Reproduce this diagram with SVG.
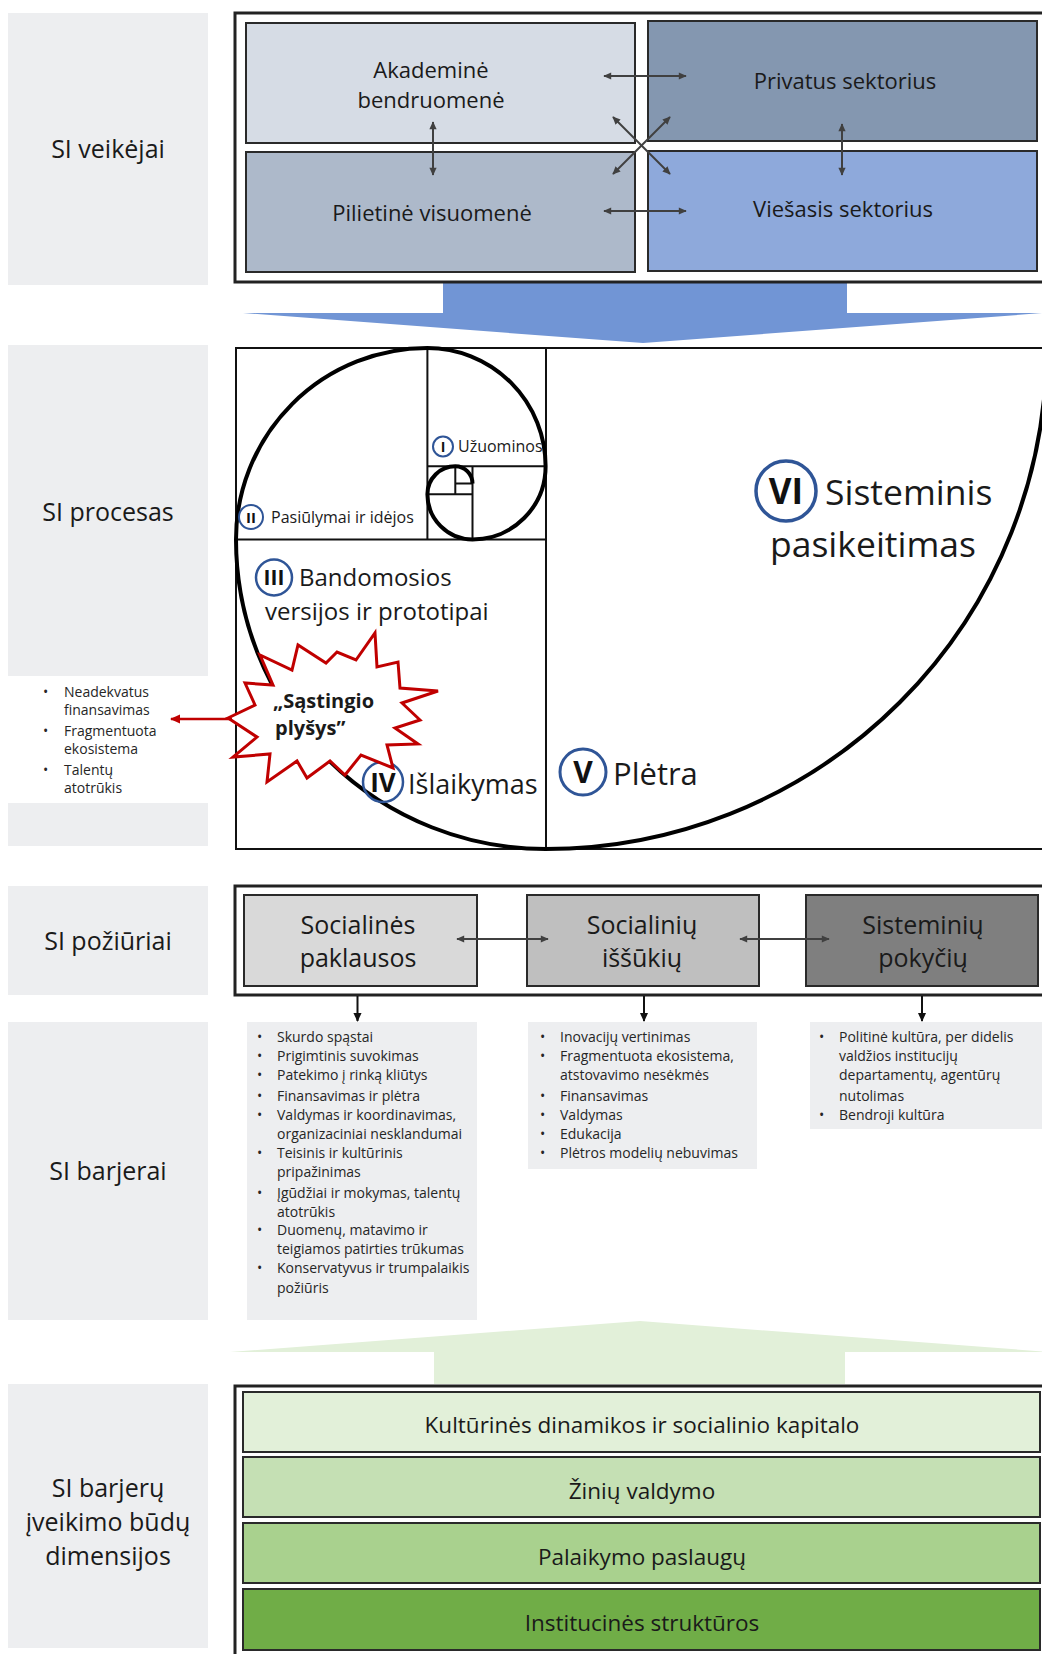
<svg xmlns="http://www.w3.org/2000/svg" width="1042" height="1654" viewBox="0 0 1042 1654">
<defs>
<style>
text{font-family:"Open Sans","Noto Sans","Liberation Sans",sans-serif;fill:#1a1a1a}
.lbl{fill:#EDEEF0}
.lt{font-size:25px;text-anchor:middle}
.bt{font-size:22px;text-anchor:middle}
.dt{font-size:22.5px;text-anchor:middle}
.blt{font-size:14px;fill:#262626}
.bx{stroke:#2a2a2a;stroke-width:2}
.frame{fill:none;stroke:#222;stroke-width:3}
.dar{stroke:#404040;stroke-width:2;fill:none;marker-start:url(#ah);marker-end:url(#ah)}
.num{font-weight:bold;text-anchor:middle;fill:#111}
.circ{fill:none;stroke:#2F5597}
.grid{fill:none;stroke:#111;stroke-width:2}
</style>
<marker id="ah" viewBox="0 0 10 10" refX="9" refY="5" markerWidth="9" markerHeight="8" markerUnits="userSpaceOnUse" orient="auto-start-reverse"><path d="M0,0.5 L10,5 L0,9.5 z" fill="#404040"/></marker>
<marker id="ahk" viewBox="0 0 10 10" refX="9" refY="5" markerWidth="10" markerHeight="9" markerUnits="userSpaceOnUse" orient="auto"><path d="M0,0.5 L10,5 L0,9.5 z" fill="#111"/></marker>
<marker id="ahr" viewBox="0 0 10 10" refX="9" refY="5" markerWidth="11" markerHeight="10" markerUnits="userSpaceOnUse" orient="auto"><path d="M0,0.5 L10,5 L0,9.5 z" fill="#C00000"/></marker>
</defs>
<rect width="1042" height="1654" fill="#fff"/>

<!-- left labels -->
<g id="label-veikejai"><rect class="lbl" x="8" y="13" width="200" height="272"/><text class="lt" x="108" y="158">SI veikėjai</text></g>
<g id="label-procesas"><rect class="lbl" x="8" y="345" width="200" height="331"/><rect class="lbl" x="8" y="803" width="200" height="43"/><text class="lt" x="108" y="521">SI procesas</text></g>
<g id="label-poziuriai"><rect class="lbl" x="8" y="886" width="200" height="109"/><text class="lt" x="108" y="950">SI požiūriai</text></g>
<g id="label-barjerai"><rect class="lbl" x="8" y="1022" width="200" height="298"/><text class="lt" x="108" y="1180">SI barjerai</text></g>
<g id="label-dimensijos"><rect class="lbl" x="8" y="1384" width="200" height="264"/><text class="lt" x="108" y="1497">SI barjerų</text><text class="lt" x="108" y="1531">įveikimo būdų</text><text class="lt" x="108" y="1565">dimensijos</text></g>

<!-- big arrows -->
<g id="arrow-blue"><polygon points="443,282 847,282 847,313 1043,313 643,343 243,313 443,313" fill="#7195D5"/></g>
<g id="arrow-green"><polygon points="434,1384 434,1352 230,1352 640,1321 1050,1352 845,1352 845,1384" fill="#E2F0D9"/></g>

<!-- actors -->
<g id="actors-frame"><rect class="frame" x="235" y="13" width="820" height="269"/></g>
<g id="node-akademine"><rect class="bx" x="246" y="23" width="389" height="120" fill="#D6DCE5"/><text class="bt" x="431" y="78">Akademinė</text><text class="bt" x="431" y="108">bendruomenė</text></g>
<g id="node-privatus"><rect class="bx" x="648" y="21" width="389" height="120" fill="#8497B0"/><text class="bt" x="845" y="89">Privatus sektorius</text></g>
<g id="node-pilietine"><rect class="bx" x="246" y="152" width="389" height="120" fill="#ADB9CA"/><text class="bt" x="432" y="221">Pilietinė visuomenė</text></g>
<g id="node-viesasis"><rect class="bx" x="648" y="151" width="389" height="120" fill="#8EA9DB"/><text class="bt" x="843" y="217">Viešasis sektorius</text></g>

<!-- process -->
<g id="process">
<path class="grid" d="M1045,348 H236 V849 H1045 M546,348 V849 M236,539.4 H546 M427.4,348 V539.4 M427.4,466.3 H546 M472.5,466.3 V539.4 M427.4,494.2 H472.5 M455.3,466.3 V494.2 M455.3,483.6 H472.5"/>
<path d="M1046.6,348 A501,501 0 0 1 545.6,849 A309.6,309.6 0 0 1 236,539.4 A191.4,191.4 0 0 1 427.4,348 A118.3,118.3 0 0 1 545.6,466.3 A73.1,73.1 0 0 1 472.5,539.4 A45.2,45.2 0 0 1 427.4,494.2 A27.9,27.9 0 0 1 455.3,466.3 A17.3,17.3 0 0 1 472.5,483.6" fill="none" stroke="#000" stroke-width="4"/>
</g>
<g id="stage-1"><circle class="circ" cx="443" cy="446.5" r="10" stroke-width="2"/><text class="num" x="443" y="452" font-size="14">I</text><text x="458" y="452" font-size="16">Užuominos</text></g>
<g id="stage-2"><circle class="circ" cx="251" cy="517" r="12" stroke-width="2"/><text class="num" x="251" y="523" font-size="15">II</text><text x="271" y="523" font-size="16">Pasiūlymai ir idėjos</text></g>
<g id="stage-3"><circle class="circ" cx="274" cy="577.5" r="18" stroke-width="2.5"/><text class="num" x="274" y="585" font-size="21">III</text><text x="299" y="586" font-size="24">Bandomosios</text><text x="265" y="620" font-size="24">versijos ir prototipai</text></g>
<g id="stage-4"><circle class="circ" cx="383" cy="782" r="20" stroke-width="2.5"/><text class="num" x="383" y="792" font-size="26">IV</text><text x="408" y="794" font-size="27">Išlaikymas</text></g>
<g id="stage-5"><circle class="circ" cx="583" cy="772" r="23" stroke-width="3"/><text class="num" x="583" y="783" font-size="30">V</text><text x="613" y="785" font-size="31">Plėtra</text></g>
<g id="stage-6"><circle class="circ" cx="786" cy="491" r="30" stroke-width="3.5"/><text class="num" x="786" y="504" font-size="35">VI</text><text x="825" y="505" font-size="35.5">Sisteminis</text><text x="770" y="557" font-size="35.5">pasikeitimas</text></g>

<g id="gap-star"><polygon points="228,718 255,705 245,683 273,685 260,655 292,670 298,645 326,663 337,652 356,660 375,633 377,667 398,662 400,688 438,691 402,703 420,720 395,728 418,744 387,745 393,768 361,755 345,775 330,761 307,778 297,761 267,782 270,754 233,757 257,737" fill="#fff" stroke="#C00000" stroke-width="3" stroke-linejoin="miter"/><text x="273" y="708" font-size="20" font-weight="bold">„Sąstingio</text><text x="275" y="735" font-size="20" font-weight="bold">plyšys”</text></g>

<g id="gap-list">
<text class="blt" x="43" y="697">•</text><text class="blt" x="64" y="697">Neadekvatus</text><text class="blt" x="64" y="715">finansavimas</text>
<text class="blt" x="43" y="736">•</text><text class="blt" x="64" y="736">Fragmentuota</text><text class="blt" x="64" y="754">ekosistema</text>
<text class="blt" x="43" y="775">•</text><text class="blt" x="64" y="775">Talentų</text><text class="blt" x="64" y="793">atotrūkis</text>
</g>

<!-- approaches -->
<g id="approaches-frame"><rect class="frame" x="235" y="886" width="820" height="109"/></g>
<g id="node-paklausos"><rect class="bx" x="244" y="895" width="233" height="91" fill="#D9D9D9"/><text class="lt" x="358" y="934">Socialinės</text><text class="lt" x="358" y="967">paklausos</text></g>
<g id="node-issukiu"><rect class="bx" x="527" y="895" width="232" height="91" fill="#BFBFBF"/><text class="lt" x="642" y="934">Socialinių</text><text class="lt" x="642" y="967">iššūkių</text></g>
<g id="node-pokyciu"><rect class="bx" x="806" y="895" width="232" height="91" fill="#7F7F7F"/><text class="lt" x="923" y="934">Sisteminių</text><text class="lt" x="923" y="967">pokyčių</text></g>

<!-- barriers -->
<g id="barriers-1"><rect class="lbl" x="247" y="1022" width="230" height="298"/>
<text class="blt" x="257" y="1042">•</text><text class="blt" x="277" y="1042">Skurdo spąstai</text>
<text class="blt" x="257" y="1061">•</text><text class="blt" x="277" y="1061">Prigimtinis suvokimas</text>
<text class="blt" x="257" y="1080">•</text><text class="blt" x="277" y="1080">Patekimo į rinką kliūtys</text>
<text class="blt" x="257" y="1101">•</text><text class="blt" x="277" y="1101">Finansavimas ir plėtra</text>
<text class="blt" x="257" y="1120">•</text><text class="blt" x="277" y="1120">Valdymas ir koordinavimas,</text><text class="blt" x="277" y="1139">organizaciniai nesklandumai</text>
<text class="blt" x="257" y="1158">•</text><text class="blt" x="277" y="1158">Teisinis ir kultūrinis</text><text class="blt" x="277" y="1177">pripažinimas</text>
<text class="blt" x="257" y="1198">•</text><text class="blt" x="277" y="1198">Įgūdžiai ir mokymas, talentų</text><text class="blt" x="277" y="1217">atotrūkis</text>
<text class="blt" x="257" y="1235">•</text><text class="blt" x="277" y="1235">Duomenų, matavimo ir</text><text class="blt" x="277" y="1254">teigiamos patirties trūkumas</text>
<text class="blt" x="257" y="1273">•</text><text class="blt" x="277" y="1273">Konservatyvus ir trumpalaikis</text><text class="blt" x="277" y="1293">požiūris</text>
</g>
<g id="barriers-2"><rect class="lbl" x="528" y="1022" width="229" height="147"/>
<text class="blt" x="540" y="1042">•</text><text class="blt" x="560" y="1042">Inovacijų vertinimas</text>
<text class="blt" x="540" y="1061">•</text><text class="blt" x="560" y="1061">Fragmentuota ekosistema,</text><text class="blt" x="560" y="1080">atstovavimo nesėkmės</text>
<text class="blt" x="540" y="1101">•</text><text class="blt" x="560" y="1101">Finansavimas</text>
<text class="blt" x="540" y="1120">•</text><text class="blt" x="560" y="1120">Valdymas</text>
<text class="blt" x="540" y="1139">•</text><text class="blt" x="560" y="1139">Edukacija</text>
<text class="blt" x="540" y="1158">•</text><text class="blt" x="560" y="1158">Plėtros modelių nebuvimas</text>
</g>
<g id="barriers-3"><rect class="lbl" x="810" y="1022" width="232" height="107"/>
<text class="blt" x="819" y="1042">•</text><text class="blt" x="839" y="1042">Politinė kultūra, per didelis</text><text class="blt" x="839" y="1061">valdžios institucijų</text><text class="blt" x="839" y="1080">departamentų, agentūrų</text><text class="blt" x="839" y="1101">nutolimas</text>
<text class="blt" x="819" y="1120">•</text><text class="blt" x="839" y="1120">Bendroji kultūra</text>
</g>

<!-- dimensions -->
<g id="dimensions-frame"><rect class="frame" x="235" y="1386" width="820" height="300"/></g>
<g id="dim-1"><rect class="bx" x="243" y="1392" width="797" height="60" fill="#E2F0D9"/><text class="dt" x="642" y="1433">Kultūrinės dinamikos ir socialinio kapitalo</text></g>
<g id="dim-2"><rect class="bx" x="243" y="1457" width="797" height="60" fill="#C5E0B4"/><text class="dt" x="642" y="1499">Žinių valdymo</text></g>
<g id="dim-3"><rect class="bx" x="243" y="1523" width="797" height="60" fill="#A9D18E"/><text class="dt" x="642" y="1565">Palaikymo paslaugų</text></g>
<g id="dim-4"><rect class="bx" x="243" y="1589" width="797" height="61" fill="#70AD47"/><text class="dt" x="642" y="1631">Institucinės struktūros</text></g>

<!-- connectors -->
<g id="connectors">
<line class="dar" x1="604" y1="76" x2="686" y2="76"/>
<line class="dar" x1="604" y1="211" x2="686" y2="211"/>
<line class="dar" x1="433" y1="122" x2="433" y2="175"/>
<line class="dar" x1="842" y1="124" x2="842" y2="175"/>
<line class="dar" x1="613" y1="117" x2="670" y2="174"/>
<line class="dar" x1="670" y1="117" x2="613" y2="174"/>
<line class="dar" x1="457" y1="939" x2="548" y2="939" stroke-width="2.5"/>
<line class="dar" x1="740" y1="939" x2="829" y2="939" stroke-width="2.5"/>
<line x1="357.5" y1="996" x2="357.5" y2="1021" stroke="#111" stroke-width="2" marker-end="url(#ahk)"/>
<line x1="644" y1="996" x2="644" y2="1021" stroke="#111" stroke-width="2" marker-end="url(#ahk)"/>
<line x1="922" y1="996" x2="922" y2="1021" stroke="#111" stroke-width="2" marker-end="url(#ahk)"/>
<line x1="232" y1="719" x2="171" y2="719" stroke="#C00000" stroke-width="2.5" marker-end="url(#ahr)"/>
</g>
</svg>
